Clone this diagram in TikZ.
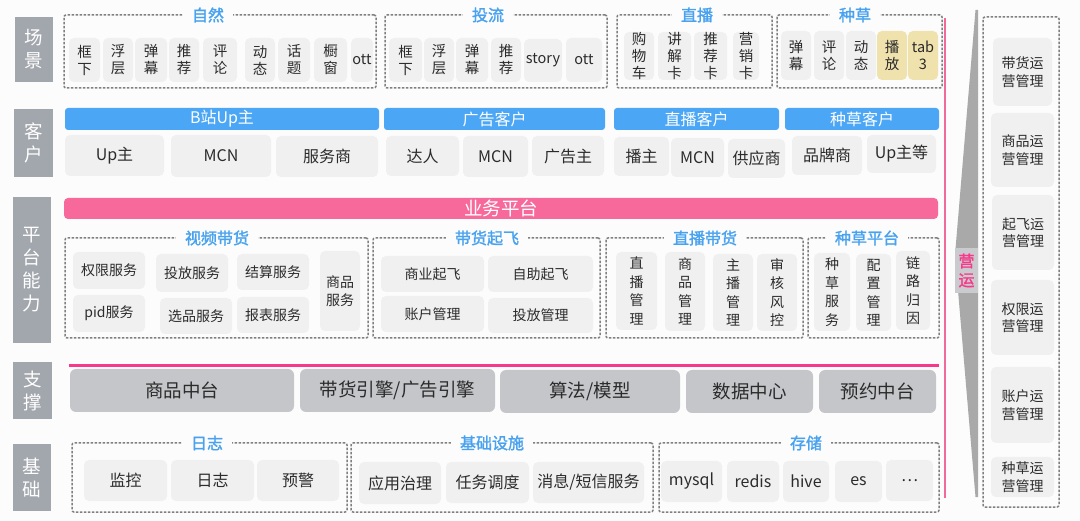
\documentclass[tikz,border=0pt]{standalone}
\usepackage{fontspec}
\setmainfont{Noto Sans CJK SC}
\newfontfamily\ttlfont[FakeBold=1.6]{Noto Sans CJK SC}
\definecolor{bg}{HTML}{FCFCFC}
\definecolor{labgray}{HTML}{A2A6AD}
\definecolor{itemgray}{HTML}{F0F0F0}
\definecolor{yel}{HTML}{F0E2AD}
\definecolor{hdrblue}{HTML}{4BA7F5}
\definecolor{ttlblue}{HTML}{48A2EF}
\definecolor{pinkbar}{HTML}{F7699A}
\definecolor{pinkline}{HTML}{F8388A}
\definecolor{pinkv}{HTML}{F06A9A}
\definecolor{supgray}{HTML}{C4C6C9}
\definecolor{fungray}{HTML}{A9A9A9}
\definecolor{yybox}{HTML}{C9CBCE}
\definecolor{txt}{HTML}{2B2B2B}
\definecolor{dash}{HTML}{808080}
\newcommand\fA{\fontsize{14.5}{17}\selectfont}
\newcommand\fB{\fontsize{16}{19}\selectfont}
\newcommand\fC{\fontsize{14}{18.5}\selectfont}
\newcommand\fD{\fontsize{18.5}{21}\selectfont}
\newcommand\fE{\fontsize{16}{19}\selectfont}
\newcommand\fR{\fontsize{14}{17.5}\selectfont}
\newcommand\fL{\fontsize{18.5}{23}\selectfont}
\newcommand\fT{\fontsize{16}{18}\selectfont}
\tikzset{
  base/.style={inner sep=0pt, align=center, text=txt},
  item/.style={base, fill=itemgray, rounded corners=5pt},
  yitem/.style={base, fill=yel, rounded corners=5pt},
  lab/.style={base, fill=labgray, text=white, font=\fL},
  hdr/.style={base, fill=hdrblue, text=white, rounded corners=3pt, font=\fB},
  sup/.style={base, fill=supgray, rounded corners=6pt, font=\fD},
  grp/.style={draw=dash, dash pattern=on 2.5pt off 1.5pt, line width=1.5pt, rounded corners=2pt, inner sep=0pt},
  ttl/.style={fill=bg, text=ttlblue, font=\ttlfont\fT, inner xsep=9pt, inner ysep=1pt},
}
% \bx{name}{style}{x1}{y1}{x2}{y2}{text}
\newcommand\bx[7]{\node[#2, minimum width={(#5)-(#3)}, minimum height={(#6)-(#4)}] (#1) at ({((#3)+(#5))/2},{((#4)+(#6))/2}) {#7};}
% \grpbox{name}{x1}{y1}{x2}{y2}{titlex}{title}
\newcommand\grpbox[7]{\node[grp, minimum width={(#4)-(#2)}, minimum height={(#5)-(#3)}] (#1) at ({((#2)+(#4))/2},{((#3)+(#5))/2}) {};
  \node[ttl] (#1t) at (#6,#3) {#7};}
\begin{document}
\begin{tikzpicture}[x=1pt,y=-1pt]
\fill[bg] (0,0) rectangle (1080,521);
\useasboundingbox (0,0) rectangle (1080,521);

% left labels
\bx{l1}{lab}{15}{17}{53}{82}{场\\景}
\bx{l2}{lab}{14}{109}{53}{177}{客\\户}
\bx{l3}{lab}{13}{197}{51}{343}{平\\台\\能\\力}
\bx{l4}{lab}{13}{362}{52}{419}{支\\撑}
\bx{l5}{lab}{13}{444}{51}{511}{基\\础}

% row 1 scenes
\grpbox{g1}{64}{15}{376}{88}{208}{自然}
\grpbox{g2}{385}{15}{607}{88}{488}{投流}
\grpbox{g3}{617}{15}{772}{88}{697}{直播}
\grpbox{g4}{777}{15}{942}{88}{855}{种草}
\bx{a1}{item,font=\fA}{69}{38}{100}{82}{框\\下}
\bx{a2}{item,font=\fA}{103}{38}{133}{82}{浮\\层}
\bx{a3}{item,font=\fA}{135}{38}{167}{82}{弹\\幕}
\bx{a4}{item,font=\fA}{169}{38}{199}{82}{推\\荐}
\bx{a5}{item,font=\fA}{203}{38}{237}{82}{评\\论}
\bx{a6}{item,font=\fA}{245}{38}{275}{82}{动\\态}
\bx{a7}{item,font=\fA}{278}{38}{310}{82}{话\\题}
\bx{a8}{item,font=\fA}{314}{38}{347}{82}{橱\\窗}
\bx{a9}{item,font=\fA}{351}{38}{373}{82}{ott}
\bx{b1}{item,font=\fA}{389}{38}{422}{82}{框\\下}
\bx{b2}{item,font=\fA}{424}{38}{454}{82}{浮\\层}
\bx{b3}{item,font=\fA}{456}{38}{488}{82}{弹\\幕}
\bx{b4}{item,font=\fA}{491}{38}{521}{82}{推\\荐}
\bx{b5}{item,font=\fA}{524}{39}{562}{82}{story}
\bx{b6}{item,font=\fA}{566}{38}{602}{82}{ott}
\bx{c1}{item,font=\fA}{624}{32}{654}{80}{购\\物\\车}
\bx{c2}{item,font=\fA}{658}{32}{691}{80}{讲\\解\\卡}
\bx{c3}{item,font=\fA}{694}{32}{727}{80}{推\\荐\\卡}
\bx{c4}{item,font=\fA}{733}{32}{759}{80}{营\\销\\卡}
\bx{d1}{item,font=\fA}{781}{31}{811}{80}{弹\\幕}
\bx{d2}{item,font=\fA}{814}{31}{844}{80}{评\\论}
\bx{d3}{item,font=\fA}{846}{31}{876}{80}{动\\态}
\bx{d4}{yitem,font=\fA}{877}{31}{907}{80}{播\\放}
\bx{d5}{yitem,font=\fA}{908}{31}{938}{80}{tab\\3}

% row 2 clients
\bx{h1}{hdr}{65}{108}{379}{130}{B站Up主}
\bx{h2}{hdr}{384}{108}{605}{130}{广告客户}
\bx{h3}{hdr}{614}{108}{779}{130}{直播客户}
\bx{h4}{hdr}{785}{108}{939}{130}{种草客户}
\bx{e1}{item,font=\fB}{65}{135}{164}{176}{Up主}
\bx{e2}{item,font=\fB}{171}{135}{271}{177}{MCN}
\bx{e3}{item,font=\fB}{276}{136}{378}{177}{服务商}
\bx{e4}{item,font=\fB}{386}{136}{459}{176}{达人}
\bx{e5}{item,font=\fB}{463}{136}{528}{177}{MCN}
\bx{e6}{item,font=\fB}{532}{136}{604}{176}{广告主}
\bx{e7}{item,font=\fB}{614}{137}{669}{176}{播主}
\bx{e8}{item,font=\fB}{671}{138}{724}{177}{MCN}
\bx{e9}{item,font=\fB}{728}{139}{785}{178}{供应商}
\bx{e10}{item,font=\fB}{792}{136}{862}{175}{品牌商}
\bx{e11}{item,font=\fB}{867}{135}{936}{173}{Up主等}

% row 3 platform
\bx{pf}{base,fill=pinkbar,rounded corners=4pt,text=white,font=\fD}{64}{198}{938}{219}{业务平台}
\grpbox{g5}{65}{238}{368}{338}{217}{视频带货}
\grpbox{g6}{373}{238}{600}{338}{487}{带货起飞}
\grpbox{g7}{606}{238}{803}{338}{705}{直播带货}
\grpbox{g8}{808}{238}{939}{338}{867}{种草平台}
\bx{p1}{item,font=\fC}{73}{252}{145}{289}{权限服务}
\bx{p2}{item,font=\fC}{156}{254}{228}{292}{投放服务}
\bx{p3}{item,font=\fC}{237}{254}{309}{290}{结算服务}
\bx{p4}{item,font=\fC}{73}{295}{145}{332}{pid服务}
\bx{p5}{item,font=\fC}{160}{298}{232}{334}{选品服务}
\bx{p6}{item,font=\fC}{237}{297}{309}{333}{报表服务}
\bx{p7}{item,font=\fC}{320}{251}{360}{331}{商品\\服务}
\bx{q1}{item,font=\fC}{381}{256}{484}{292}{商业起飞}
\bx{q2}{item,font=\fC}{488}{256}{593}{292}{自助起飞}
\bx{q3}{item,font=\fC}{381}{296}{484}{332}{账户管理}
\bx{q4}{item,font=\fC}{488}{298}{593}{333}{投放管理}
\bx{r1}{item,font=\fC}{616}{252}{657}{330}{直\\播\\管\\理}
\bx{r2}{item,font=\fC}{665}{252}{705}{331}{商\\品\\管\\理}
\bx{r3}{item,font=\fC}{713}{254}{753}{331}{主\\播\\管\\理}
\bx{r4}{item,font=\fC}{757}{254}{797}{331}{审\\核\\风\\控}
\bx{s1}{item,font=\fC}{814}{253}{850}{331}{种\\草\\服\\务}
\bx{s2}{item,font=\fC}{856}{254}{891}{331}{配\\置\\管\\理}
\bx{s3}{item,font=\fC}{896}{251}{930}{330}{链\\路\\归\\因}

% row 4 support
\draw[pinkline, line width=2.5pt] (69,365.5) -- (939,365.5);
\bx{t1}{sup}{70}{369}{294}{412}{商品中台}
\bx{t2}{sup}{300}{369}{495}{412}{带货引擎/广告引擎}
\bx{t3}{sup}{500}{370}{680}{413}{算法/模型}
\bx{t4}{sup}{686}{370}{813}{413}{数据中心}
\bx{t5}{sup}{819}{370}{936}{413}{预约中台}

% row 5 base
\grpbox{g9}{72}{443}{347}{512}{207}{日志}
\grpbox{g10}{351}{443}{653}{512}{492}{基础设施}
\grpbox{g11}{659}{443}{939}{512}{806}{存储}
\bx{u1}{item,font=\fE}{84}{460}{167}{501}{监控}
\bx{u2}{item,font=\fE}{171}{460}{254}{501}{日志}
\bx{u3}{item,font=\fE}{257}{460}{339}{501}{预警}
\bx{v1}{item,font=\fE}{359}{462}{441}{504}{应用治理}
\bx{v2}{item,font=\fE}{446}{462}{529}{503}{任务调度}
\bx{v3}{item,font=\fE}{533}{462}{644}{503}{消息/短信服务}
\bx{w1}{item,font=\fE}{661}{461}{722}{502}{mysql}
\bx{w2}{item,font=\fE}{727}{461}{779}{502}{redis}
\bx{w3}{item,font=\fE}{783}{461}{829}{502}{hive}
\bx{w4}{item,font=\fE}{835}{461}{882}{502}{es}
\bx{w5}{item,font=\fE}{886}{460}{933}{501}{…}

% right side: pink line, funnel, operations
\draw[pinkv, line width=1.6pt] (945,18) -- (945,498);
\fill[fungray] (975.5,10) -- (978,10) -- (978,497) -- (975.5,497) -- (955,255) -- cycle;
\bx{yy}{base,fill=yybox,text=pinkline,font=\ttlfont\fB}{955}{248}{978}{293}{营\\运}
\node[grp, minimum width=76, minimum height=490] (g12) at (1021,262) {};
\bx{o1}{item,font=\fR}{993}{38}{1052}{106}{带货运\\营管理}
\bx{o2}{item,font=\fR}{991}{113}{1054}{187}{商品运\\营管理}
\bx{o3}{item,font=\fR}{992}{195}{1054}{270}{起飞运\\营管理}
\bx{o4}{item,font=\fR}{991}{280}{1054}{355}{权限运\\营管理}
\bx{o5}{item,font=\fR}{991}{367}{1054}{443}{账户运\\营管理}
\bx{o6}{item,font=\fR}{991}{457}{1054}{497}{种草运\\营管理}
\end{tikzpicture}
\end{document}
